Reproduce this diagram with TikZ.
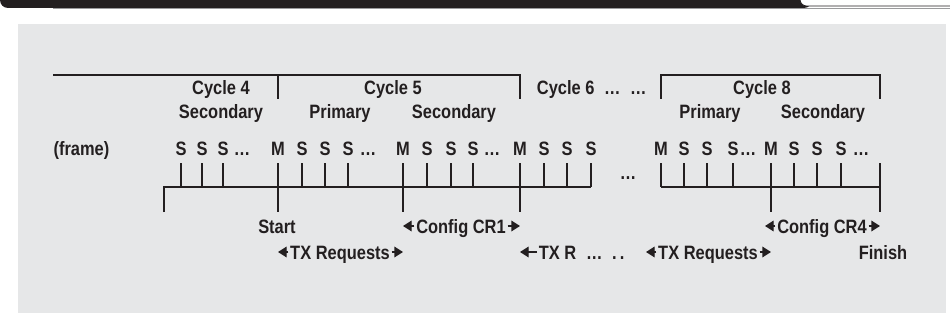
\documentclass[tikz,border=0pt]{standalone}
\usepackage{fontspec}
\setmainfont[FakeStretch=0.85]{Liberation Sans}
\usepackage{tikz}
\usetikzlibrary{arrows.meta,positioning,calc}
\definecolor{ink}{HTML}{231F20}
\definecolor{panel}{HTML}{E6E7E8}
\definecolor{hairline}{HTML}{9A9A9C}
\tikzstyle{lbl} = [font=\bfseries\fontsize{14.5}{16}\selectfont, text=ink, inner sep=1pt, text height=10.5pt, text depth=0pt]
\tikzstyle{frm} = [lbl, inner sep=0pt]
\tikzstyle{ref} = [coordinate]

\begin{document}
\begin{tikzpicture}[x=0.75pt, y=-0.75pt, color=ink, line width=0.9pt, >={Triangle[length=6.5pt,width=8pt]}]
    \useasboundingbox (0,0) rectangle (950,328);
    % page header and grey panel
    \fill[ink, rounded corners=6pt] (0,-12) -- (0,8) -- (812,8) -- (812,-12) -- cycle;
    \filldraw[fill=white, draw=ink, line width=0.6pt, rounded corners=5pt] (800,-12) -- (800,6) -- (962,6) -- (962,-12) -- cycle;
    \draw[hairline, line width=0.5pt] (53,8.8) -- (950,8.8);
    \fill[panel] (18,24) rectangle (946,313);

    % levels
    \node[ref] (topl) at (53,75) {};
    \node[ref] (brk) at (0,99) {};
    \node[ref] (top) at (0,163) {};
    \node[ref] (base) at (0,187) {};
    \node[ref] (low) at (0,212) {};
    \node[ref] (bl) at (164,187) {};
    \node[ref] (br) at (880,187) {};

    % cycle labels
    \node[lbl] (cyc4) at (221,87) {Cycle 4};
    \node[lbl] (sec4) at (221,111) {Secondary};
    \node[lbl] (cyc5) at (393,87) {Cycle 5};
    \node[lbl] (pri5) at (340,111) {Primary};
    \node[lbl] (sec5) at (454,111) {Secondary};
    \node[lbl, anchor=west] (cyc6) at (535,87) {Cycle 6\enspace\dots\enspace\dots};
    \node[lbl] (cyc8) at (762,87) {Cycle 8};
    \node[lbl] (pri8) at (710,111) {Primary};
    \node[lbl] (sec8) at (823,111) {Secondary};

    % frame row
    \node[lbl, anchor=west, inner sep=0pt] (frame) at (53,149) {(frame)};
    \node[frm] (s41) at (181,149) {S};
    \node[frm] (s42) at (202,149) {S};
    \node[frm] (s43) at (223,149) {S};
    \node[frm] (d41) at (242,149) {\dots};
    \node[frm] (m51) at (278,149) {M};
    \node[frm] (s51) at (302,149) {S};
    \node[frm] (s52) at (325,149) {S};
    \node[frm] (s53) at (348,149) {S};
    \node[frm] (d51) at (368,149) {\dots};
    \node[frm] (m52) at (403,149) {M};
    \node[frm] (s54) at (427,149) {S};
    \node[frm] (s55) at (451,149) {S};
    \node[frm] (s56) at (473,149) {S};
    \node[frm] (d52) at (492,149) {\dots};
    \node[frm] (m6) at (520,149) {M};
    \node[frm] (s61) at (544,149) {S};
    \node[frm] (s62) at (567,149) {S};
    \node[frm] (s63) at (591,149) {S};
    \node[frm] (dgap) at (628,172) {\dots};
    \node[frm] (m81) at (661,149) {M};
    \node[frm] (s81) at (684,149) {S};
    \node[frm] (s82) at (707,149) {S};
    \node[frm] (s83) at (733,149) {S};
    \node[frm] (d81) at (748,149) {\dots};
    \node[frm] (m82) at (771,149) {M};
    \node[frm] (s84) at (794,149) {S};
    \node[frm] (s85) at (817,149) {S};
    \node[frm] (s86) at (841,149) {S};
    \node[frm] (d82) at (861,149) {\dots};

    % brackets
    \draw (topl) -| (m6 |- brk);
    \draw (m51 |- topl) -- (m51 |- brk);
    \draw (m81 |- brk) |- (br |- topl) -- (br |- brk);

    % time line
    \draw (bl |- low) |- (s63 |- base);
    \draw (m81 |- base) -- (br);
    \draw (br |- top) -- (br |- low);
    \foreach \n in {s41,s42,s43,m51,s51,s52,s53,m52,s54,s55,s56,m6,s61,s62,s63,m81,s81,s82,s83,m82,s84,s85,s86}
        \draw (\n |- top) -- (\n |- base);
    \foreach \n in {m51,m52,m6,m82}
        \draw (\n |- base) -- (\n |- low);

    % events
    \node[lbl] (start) at (277,226) {Start};
    \node[lbl] (cfg1) at (461,226) {Config CR1};
    \node[lbl] (tx1) at (340,252) {TX Requests};
    \node[lbl, anchor=west] (txr) at (537,252) {TX R\enspace\dots\enspace.\,.};
    \node[lbl] (tx2) at (708,252) {TX Requests};
    \node[ref] (txl) at (646,252) {};
    \node[lbl] (cfg4) at (822,226) {Config CR4};
    \node[ref] (cfgl) at (765,226) {};
    \node[lbl] (finish) at (883,252) {Finish};

    \draw[->, line width=1pt] (cfg1.west) -- (cfg1.west -| m52);
    \draw[->, line width=1pt] (cfg1.east) -- (cfg1.east -| m6);
    \draw[->, line width=1pt] (tx1.west) -- (tx1.west -| m51);
    \draw[->, line width=1pt] (tx1.east) -- (tx1.east -| m52);
    \draw[->, line width=1pt] (txr.west) -- (txr.west -| m6);
    \draw[->, line width=1pt] (tx2.west) -- (txl);
    \draw[->, line width=1pt] (tx2.east) -- (tx2.east -| m82);
    \draw[->, line width=1pt] (cfg4.west) -- (cfgl);
    \draw[->, line width=1pt] (cfg4.east) -- (cfg4.east -| br);
\end{tikzpicture}
\end{document}
